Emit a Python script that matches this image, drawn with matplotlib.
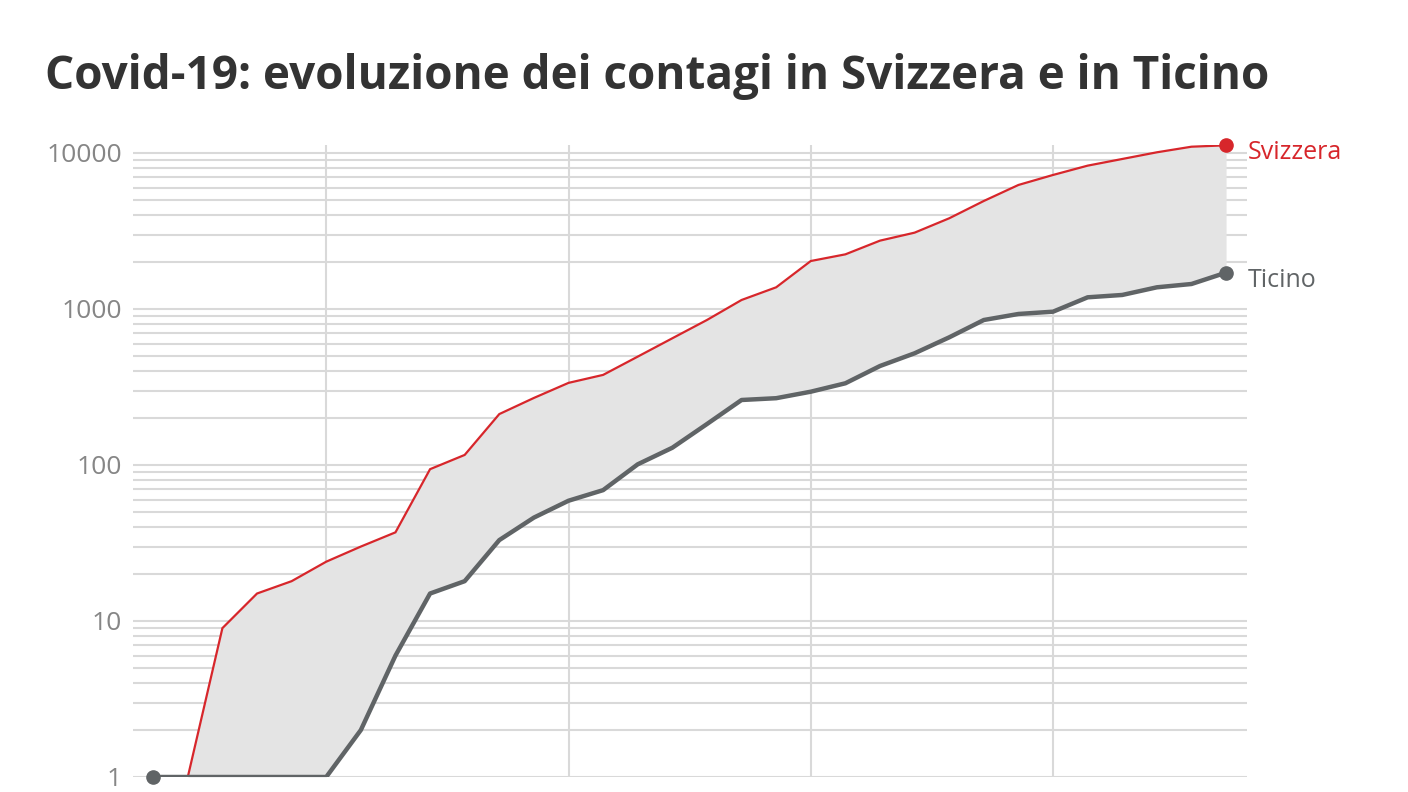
import matplotlib
matplotlib.use("Agg")
import matplotlib.pyplot as plt
import matplotlib.dates as mdates
import numpy as np
import pandas as pd

# daily values, 25 Feb - 27 Mar 2020
dates = pd.date_range("2020-02-25", periods=32, freq="D")
svizzera = [1, 1, 9, 15, 18, 24, 30, 37, 94, 116, 212, 269, 336, 378, 495, 649,
            850, 1142, 1377, 2030, 2240, 2742, 3085, 3814, 4925, 6237, 7230,
            8295, 9153, 10100, 10970, 11200]
ticino = [1, 1, 1, 1, 1, 1, 2, 6, 15, 18, 33, 46, 59, 69, 101, 129, 183, 261,
          268, 295, 334, 431, 520, 658, 850, 929, 961, 1188, 1230, 1377, 1446,
          1710]

title = "Covid-19: evoluzione dei contagi in Svizzera e in Ticino"
FONT = "Open Sans"
RED = "#d7262b"
GREY = "#606466"
GRID = "#d9d9d9"

fig = plt.figure(figsize=(14.08, 7.92), dpi=100)
ax = fig.add_axes([133 / 1408, 15 / 792, (1247 - 133) / 1408, (777 - 145) / 792])

ax.fill_between(dates, ticino, svizzera, color="#e4e4e4", linewidth=0, zorder=1)
ax.plot(dates, svizzera, color=RED, lw=1.6, zorder=3, solid_joinstyle="miter")
ax.plot(dates, ticino, color=GREY, lw=3.2, zorder=4, solid_capstyle="butt")
ax.plot(dates[-1:], svizzera[-1:], "o", color=RED, ms=9.5, zorder=5, clip_on=False)
ax.plot(dates[[0, -1]], [ticino[0], ticino[-1]], "o", color=GREY, ms=9.5,
        zorder=5, clip_on=False)

ax.set_yscale("log")
ax.set_ylim(1, 11250)
ax.set_xlim(dates[0] - pd.Timedelta(hours=14), dates[-1] + pd.Timedelta(hours=14.5))

ax.xaxis.set_major_locator(mdates.WeekdayLocator(byweekday=mdates.SU))
ax.xaxis.set_major_formatter(plt.NullFormatter())
ax.yaxis.set_major_formatter(matplotlib.ticker.FuncFormatter(lambda v, p: f"{v:.0f}"))
ax.yaxis.set_minor_formatter(plt.NullFormatter())
ax.grid(axis="y", which="both", color=GRID, lw=1.5, zorder=0)
ax.grid(axis="x", which="major", color=GRID, lw=1.5, zorder=0)
ax.set_axisbelow(True)
for s in ax.spines.values():
    s.set_visible(False)
ax.tick_params(axis="both", which="both", length=0)
ax.tick_params(axis="y", pad=8, labelsize=19, labelcolor="#868686")
for lab in ax.get_yticklabels():
    lab.set_fontfamily(FONT)

ax.annotate("Svizzera", xy=(dates[-1], svizzera[-1]), xytext=(15.5, -5.5),
            textcoords="offset points", color=RED, fontsize=18, family=FONT,
            va="center", ha="left", annotation_clip=False)
ax.annotate("Ticino", xy=(dates[-1], ticino[-1]), xytext=(15.5, -5.5),
            textcoords="offset points", color=GREY, fontsize=18, family=FONT,
            va="center", ha="left", annotation_clip=False)

fig.text(45 / 1408, 1 - 77 / 792, title, fontsize=33, fontweight="bold",
         family=FONT, color="#333333", va="center", ha="left")

fig.savefig("out.png", dpi=100)
